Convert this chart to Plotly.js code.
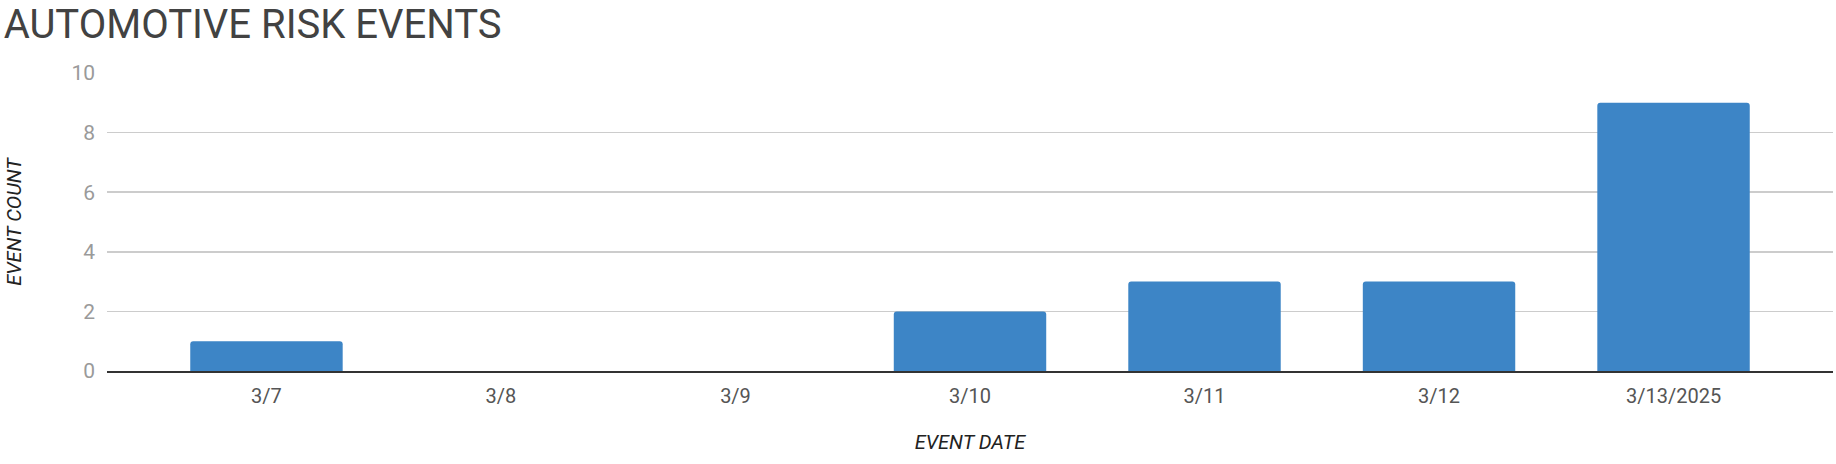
<!DOCTYPE html>
<html>
<head>
<meta charset="utf-8">
<script src="https://cdn.plot.ly/plotly-3.0.1.min.js"></script>
<style>
html,body{margin:0;padding:0;background:#fff;}
#chart{width:1836px;height:464px;}
</style>
</head>
<body>
<div id="chart"></div>
<script>
const categories = ["3/7", "3/8", "3/9", "3/10", "3/11", "3/12", "3/13/2025"];
const eventCounts = [1, 0, 0, 2, 3, 3, 9];
const yTicks = [0, 2, 4, 6, 8, 10];

const trace = {
  type: 'bar',
  x: categories,
  y: eventCounts,
  marker: {color: '#3d85c6', cornerradius: 3},
  hoverinfo: 'x+y'
};

const layout = {
  width: 1836,
  height: 464,
  margin: {l: 107, r: 3, t: 73, b: 93},
  paper_bgcolor: '#fff',
  plot_bgcolor: '#fff',
  font: {family: 'Roboto, sans-serif'},
  bargap: 0.35,
  showlegend: false,
  title: {
    text: 'AUTOMOTIVE RISK EVENTS',
    font: {family: 'Roboto, sans-serif', size: 40, color: '#424242'},
    x: 0.002, xref: 'container', xanchor: 'left',
    y: 0.948, yref: 'container', yanchor: 'middle'
  },
  xaxis: {
    type: 'category',
    range: [-0.68, 6.68],
    showgrid: false,
    zeroline: false,
    showline: true,
    linecolor: '#333',
    linewidth: 2,
    ticks: '',
    tickfont: {size: 20, color: '#555'},
    ticklabelstandoff: 6,
    title: {text: '<i>EVENT DATE</i>', font: {size: 20, color: '#222'}, standoff: 28}
  },
  yaxis: {
    range: [0, 10],
    tickvals: yTicks,
    ticktext: yTicks.map(String),
    showgrid: true,
    gridcolor: '#cccccc',
    gridwidth: 1.5,
    zeroline: false,
    ticks: '',
    tickfont: {size: 21, color: '#9a9a9a'},
    ticklabelstandoff: 11,
    title: {text: '<i>EVENT COUNT</i>', font: {size: 20, color: '#222'}, standoff: 44}
  }
};

Plotly.newPlot('chart', [trace], layout, {displayModeBar: false, staticPlot: true});
</script>
</body>
</html>
